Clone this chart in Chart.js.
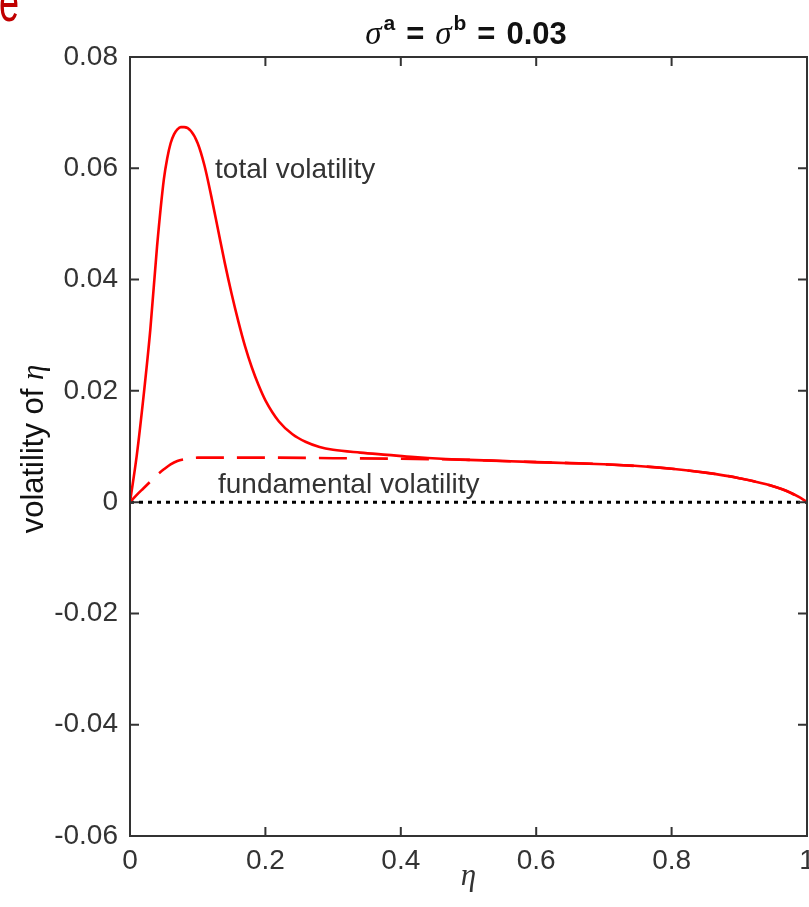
<!DOCTYPE html>
<html>
<head>
<meta charset="utf-8">
<script src="https://cdn.jsdelivr.net/npm/chart.js@4.4.1/dist/chart.umd.min.js"></script>
<style>
  html, body { margin: 0; padding: 0; background: #fff; }
</style>
</head>
<body>
<canvas id="plot" width="809" height="907"></canvas>
<script>
// values (eta on x, volatility on y)
var etaTotal = [0, 0.010, 0.020, 0.030, 0.040, 0.050, 0.055, 0.060, 0.065, 0.070, 0.075, 0.080,
                0.090, 0.100, 0.110, 0.120, 0.130, 0.140, 0.150, 0.160, 0.170, 0.180, 0.190, 0.200,
                0.220, 0.240, 0.260, 0.280, 0.300, 0.340, 0.380, 0.420, 0.460, 0.500, 0.550, 0.600,
                0.650, 0.700, 0.750, 0.800, 0.850, 0.900, 0.940, 0.970, 0.990, 1.0];
var volTotal = [0, 0.0084, 0.0190, 0.0310, 0.0460, 0.0580, 0.0618, 0.0645, 0.0661, 0.0670, 0.0674, 0.0674,
                0.0667, 0.0645, 0.0605, 0.0550, 0.0490, 0.0430, 0.0375, 0.0325, 0.0280, 0.0242, 0.0210, 0.0183,
                0.0145, 0.0122, 0.0108, 0.0099, 0.0094, 0.0089, 0.0085, 0.0081, 0.0078, 0.0076, 0.0074, 0.0072,
                0.0070, 0.0068, 0.0065, 0.0060, 0.0053, 0.0043, 0.0032, 0.0020, 0.0008, 0];
var etaFund = [0, 0.01, 0.02, 0.03, 0.04, 0.05, 0.06, 0.07, 0.08, 0.09, 0.10, 0.15, 0.20, 0.30,
               0.40, 0.46, 0.50, 0.55, 0.60, 0.70, 0.80, 0.90, 0.97, 1.0];
var volFund = [0, 0.0013, 0.0025, 0.0037, 0.0049, 0.0059, 0.0068, 0.0074, 0.0077, 0.0079, 0.0080,
               0.0080, 0.0080, 0.0079, 0.0078, 0.0077, 0.0076, 0.0074, 0.0072, 0.0068, 0.0060,
               0.0043, 0.0020, 0];
var xTicks = [0, 0.2, 0.4, 0.6, 0.8, 1];
var yTicks = [-0.06, -0.04, -0.02, 0, 0.02, 0.04, 0.06, 0.08];

function pts(xs, ys) {
  return xs.map(function (x, i) { return { x: x, y: ys[i] }; });
}

var frame = {
  id: 'frame',
  afterDatasetsDraw: function (chart) {
    var ctx = chart.ctx, a = chart.chartArea;
    var xs = chart.scales.x, ys = chart.scales.y;
    ctx.save();
    ctx.strokeStyle = '#333';
    ctx.lineWidth = 2;
    ctx.strokeRect(a.left, a.top, a.right - a.left, a.bottom - a.top);
    ctx.beginPath();
    xTicks.forEach(function (v) {
      var px = xs.getPixelForValue(v);
      ctx.moveTo(px, a.bottom); ctx.lineTo(px, a.bottom - 9);
      ctx.moveTo(px, a.top); ctx.lineTo(px, a.top + 9);
    });
    yTicks.forEach(function (v) {
      var py = ys.getPixelForValue(v);
      ctx.moveTo(a.left, py); ctx.lineTo(a.left + 9, py);
      ctx.moveTo(a.right, py); ctx.lineTo(a.right - 9, py);
    });
    ctx.stroke();

    // curve labels
    ctx.fillStyle = '#333';
    ctx.font = '28px "Liberation Sans", Arial, sans-serif';
    ctx.textBaseline = 'alphabetic';
    ctx.textAlign = 'left';
    ctx.fillText('total volatility', xs.getPixelForValue(0.1256), ys.getPixelForValue(0.0582));
    ctx.fillText('fundamental volatility', xs.getPixelForValue(0.130), ys.getPixelForValue(0.0016));

    // title: sigma^a = sigma^b = 0.03
    var big = 'bold 31px "Liberation Sans", Arial, sans-serif';
    var sup = 'bold 21px "Liberation Sans", Arial, sans-serif';
    var sig = 'italic 33px "Liberation Serif", serif';
    var parts = [
      ['σ', sig, 0, 2], ['a', sup, -14, 11], ['=', big, 0, 11],
      ['σ', sig, 0, 2], ['b', sup, -14, 11], ['=', big, 0, 11], ['0.03', big, 0, 0]
    ];
    var w = 0;
    parts.forEach(function (p) { ctx.font = p[1]; w += ctx.measureText(p[0]).width + p[3]; });
    var tx = 466 - w / 2;
    ctx.fillStyle = '#111';
    parts.forEach(function (p) {
      ctx.font = p[1];
      ctx.fillText(p[0], tx, 44 + p[2]);
      tx += ctx.measureText(p[0]).width + p[3];
    });

    // y axis title
    ctx.save();
    ctx.translate(43, 449);
    ctx.rotate(-Math.PI / 2);
    var s1 = 'volatility of ', s2 = 'η';
    ctx.font = '31px "Liberation Sans", Arial, sans-serif';
    var w1 = ctx.measureText(s1).width;
    ctx.font = 'italic 31px "Liberation Serif", serif';
    var w2 = ctx.measureText(s2).width;
    ctx.fillStyle = '#111';
    ctx.font = '31px "Liberation Sans", Arial, sans-serif';
    ctx.fillText(s1, -(w1 + w2) / 2, 0);
    ctx.font = 'italic 31px "Liberation Serif", serif';
    ctx.fillText(s2, -(w1 + w2) / 2 + w1, 0);
    ctx.restore();

    // x axis title
    ctx.font = 'italic 31px "Liberation Serif", serif';
    ctx.fillStyle = '#333';
    ctx.textAlign = 'center';
    ctx.fillText('η', (a.left + a.right) / 2, 885);

    // stray red letter at the top-left corner of the page
    ctx.fillStyle = '#c00000';
    ctx.textAlign = 'left';
    ctx.translate(-1, 21);
    ctx.scale(1, 1.6);
    ctx.font = '36px "Liberation Sans", sans-serif';
    ctx.fillText('e', 0, 0);
    ctx.restore();
  }
};

var tickFont = { family: '"Liberation Sans", Arial, sans-serif', size: 28 };

var chart = new Chart(document.getElementById('plot').getContext('2d'), {
  type: 'line',
  data: {
    datasets: [
      {
        label: 'total volatility',
        data: pts(etaTotal, volTotal),
        borderColor: '#ff0000',
        borderWidth: 2.6,
        pointRadius: 0,
        cubicInterpolationMode: 'monotone',
        fill: false
      },
      {
        label: 'fundamental volatility',
        data: pts(etaFund, volFund),
        borderColor: '#ff0000',
        borderWidth: 2.6,
        borderDash: [28, 13],
        pointRadius: 0,
        cubicInterpolationMode: 'monotone',
        fill: false
      },
      {
        label: 'zero',
        data: [{ x: 0, y: 0 }, { x: 1, y: 0 }],
        borderColor: '#000',
        borderWidth: 3,
        borderDash: [4, 5],
        pointRadius: 0,
        fill: false
      }
    ]
  },
  options: {
    responsive: false,
    animation: false,
    layout: { padding: { top: 57, left: 0, right: 2, bottom: 0 } },
    plugins: { legend: { display: false }, tooltip: { enabled: false } },
    scales: {
      x: {
        type: 'linear',
        min: 0, max: 1,
        grid: { display: false, drawTicks: false },
        border: { display: false },
        afterBuildTicks: function (s) { s.ticks = xTicks.map(function (v) { return { value: v }; }); },
        afterFit: function (s) { s.height = 71; s.paddingLeft = 0; s.paddingRight = 0; },
        ticks: {
          font: tickFont, color: '#333', padding: 8, maxRotation: 0, autoSkip: false,
          callback: function (v) { return String(Number(v.toFixed(1))); }
        }
      },
      y: {
        type: 'linear',
        min: -0.06, max: 0.08,
        grid: { display: false, drawTicks: false },
        border: { display: false },
        afterBuildTicks: function (s) { s.ticks = yTicks.map(function (v) { return { value: v }; }); },
        afterFit: function (s) { s.width = 130; s.paddingTop = 0; s.paddingBottom = 0; },
        ticks: {
          font: tickFont, color: '#333', padding: 12, autoSkip: false,
          callback: function (v) { return Math.abs(v) < 1e-9 ? '0' : v.toFixed(2); }
        }
      }
    }
  },
  plugins: [frame]
});
</script>
</body>
</html>
